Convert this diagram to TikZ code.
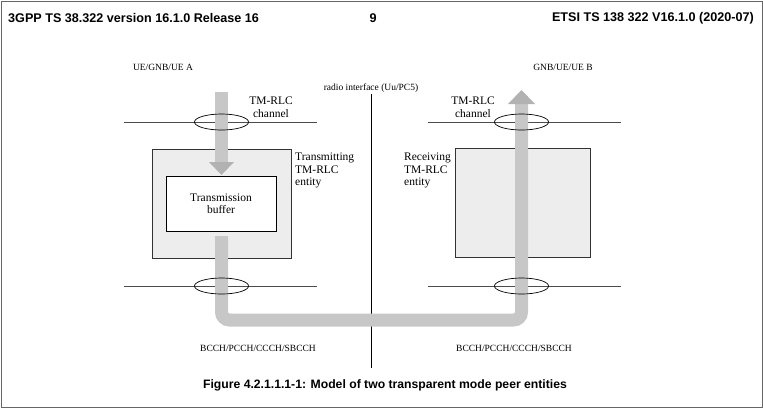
\documentclass[tikz,border=0pt]{standalone}
\usepackage{fontspec}
\setmainfont{Liberation Serif}
\newfontfamily\hdr{Liberation Sans}
\usetikzlibrary{patterns}
\begin{document}
\begin{tikzpicture}[x=1pt,y=-1pt,
  txt/.style={font=\fontsize{9.5}{10.5}\selectfont,inner sep=0pt},
  big/.style={font=\fontsize{11.5}{12.5}\selectfont,inner sep=0pt},
  hd/.style={font=\hdr\bfseries\fontsize{12.6}{14}\selectfont,inner sep=0pt},
  ent/.style={draw=black!80,fill=black!7,line width=0.7pt},
  line/.style={draw=black!70,line width=1pt},
  pipe/.style={draw=black!22,line width=13pt},
  ell/.style={draw=black,fill=none,line width=0.7pt}]
\useasboundingbox (0,0) rectangle (763,408);
\draw[black!60,line width=0.8pt] (1,1) rectangle (762,407);
\node[hd,anchor=west] (h1) at (8,18) {3GPP TS 38.322 version 16.1.0 Release 16};
\node[hd] (h2) at (373,18) {9};
\node[hd,anchor=east] (h3) at (754,18) {ETSI TS 138 322 V16.1.0 (2020-07)};
% boxes
\node[ent,minimum width=139pt,minimum height=109pt,inner sep=0pt] (lb) at (221.5,203.5) {};
\node[ent,minimum width=135pt,minimum height=109pt,inner sep=0pt] (rb) at (522.5,202.5) {};
% radio interface line
\coordinate (rt) at (371,94); \coordinate (rbm) at (371,368);
\draw[black,line width=0.8pt] (rt) -- (rbm);
% channel lines
\coordinate (l1a) at (124,122); \coordinate (l1b) at (317,122);
\coordinate (l2a) at (124,286); \coordinate (l2b) at (317,286);
\coordinate (r1a) at (428,122); \coordinate (r1b) at (621,122);
\coordinate (r2a) at (428,286); \coordinate (r2b) at (621,286);
\draw[line] (l1a)--(l1b); \draw[line] (l2a)--(l2b);
\draw[line] (r1a)--(r1b); \draw[line] (r2a)--(r2b);
% pipes
\coordinate (p0) at (221.5,92); \coordinate (p1) at (221.5,162);
\draw[pipe] (p0)--(p1);
\fill[black!30] (209,162) -- (234,162) -- (221.5,175) -- cycle;
\coordinate (q0) at (221.5,236); \coordinate (q1) at (221.5,320);
\coordinate (q2) at (521.5,320); \coordinate (q3) at (521.5,104);
\draw[pipe,rounded corners=8pt] (q0)--(q1)--(q2)--(q3);
\fill[black!30] (508,104) -- (535,104) -- (521.5,90) -- cycle;
% inner box
\node[draw=black,fill=white,line width=0.7pt,minimum width=110pt,minimum height=55pt,big,align=center] (buf) at (221,203.5) {Transmission\\buffer};
% ellipses
\draw[ell] (221.5,122) ellipse (27pt and 8pt);
\draw[ell] (221.5,286) ellipse (27pt and 8pt);
\draw[ell] (521.5,122) ellipse (27pt and 8pt);
\draw[ell] (521.5,286) ellipse (27pt and 8pt);
% texts
\node[txt] (ta) at (163,67) {UE/GNB/UE A};
\node[txt] (tb) at (563,67) {GNB/UE/UE B};
\node[txt] (ri) at (371,88) {radio interface (Uu/PC5)};
\node[big,align=center] (c1) at (271,107) {TM-RLC\\channel};
\node[big,align=center] (c2) at (473,107) {TM-RLC\\channel};
\node[big,align=left,anchor=north west] (te) at (295,153) {Transmitting\\TM-RLC\\entity};
\node[big,align=left,anchor=north west] (re) at (404,153) {Receiving\\TM-RLC\\entity};
\node[txt] (b1) at (258,348) {BCCH/PCCH/CCCH/SBCCH};
\node[txt] (b2) at (514,348) {BCCH/PCCH/CCCH/SBCCH};
\node[hd,font=\hdr\bfseries\fontsize{12.2}{14}\selectfont] (cap) at (385,385) {Figure 4.2.1.1.1-1: Model of two transparent mode peer entities};
\end{tikzpicture}
\end{document}
